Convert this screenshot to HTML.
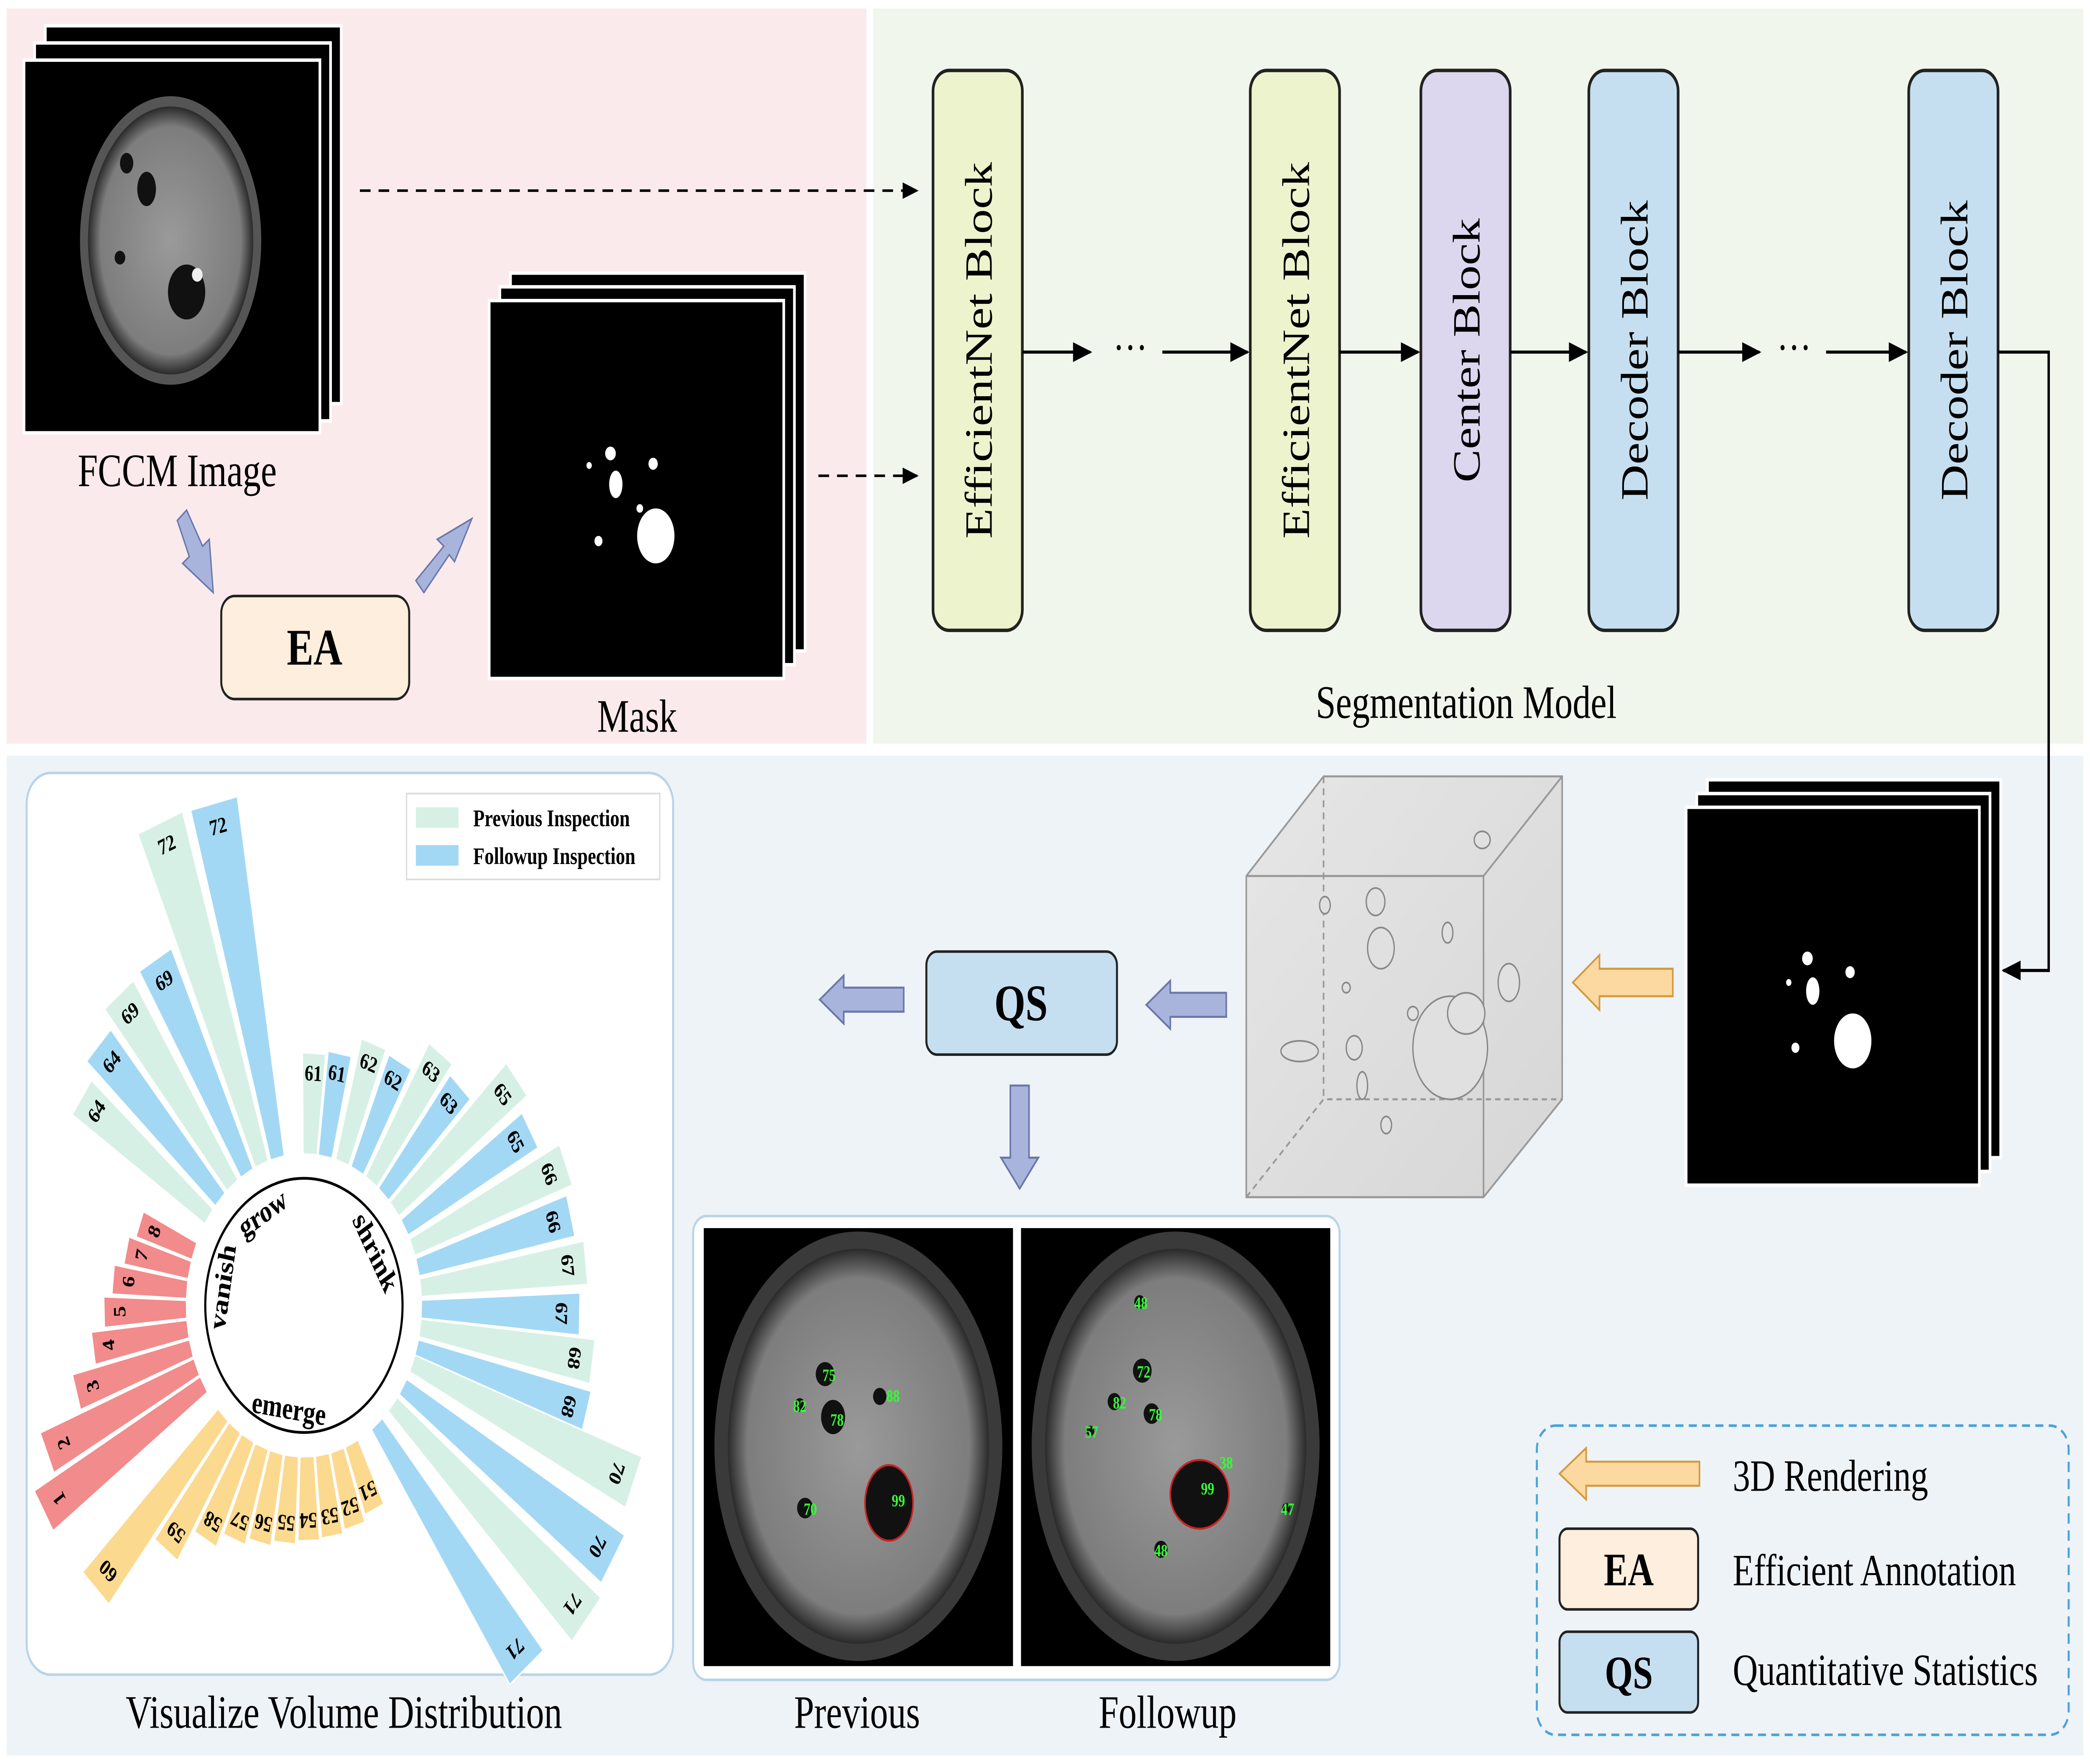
<!DOCTYPE html>
<html><head><meta charset="utf-8"><style>
html,body{margin:0;padding:0;background:#fff;width:100%;height:100%;overflow:hidden;}
svg{display:block;position:fixed;left:0;top:0;width:100vw;height:100vh;}
text{font-family:"Liberation Serif",serif;}
</style></head><body>
<svg viewBox="0 0 1568 1027" preserveAspectRatio="none" xmlns="http://www.w3.org/2000/svg">
<defs>
<radialGradient id="br" cx="50%" cy="50%" r="50%"><stop offset="0" stop-color="#9a9a9a"/><stop offset="0.85" stop-color="#7d7d7d"/><stop offset="1" stop-color="#2a2a2a"/></radialGradient>
<linearGradient id="cube" x1="0" y1="0" x2="1" y2="1"><stop offset="0" stop-color="#e6e6e6"/><stop offset="1" stop-color="#d6d6d6"/></linearGradient>
<marker id="ah" viewBox="0 0 10 10" refX="9" refY="5" markerWidth="8" markerHeight="8" orient="auto"><path d="M0,1 L10,5 L0,9 z" fill="#000"/></marker>
</defs>
<rect width="1568" height="1027" fill="#fff"/>
<rect x="5" y="5" width="645" height="428" fill="#fbeaec"/>
<rect x="655" y="5" width="908" height="428" fill="#f1f6ec"/>
<rect x="5" y="440" width="1558" height="582" fill="#eef3f8"/>

<rect x="34" y="15" width="222" height="220" fill="#000" stroke="#fff" stroke-width="2"/>
<rect x="26" y="25" width="222" height="220" fill="#000" stroke="#fff" stroke-width="2"/>
<rect x="18" y="35" width="222" height="217" fill="#000" stroke="#fff" stroke-width="2"/>
<ellipse cx="128" cy="140" rx="68" ry="84" fill="#555"/>
<ellipse cx="128" cy="140" rx="62" ry="78" fill="url(#br)"/>
<ellipse cx="110" cy="110" rx="7" ry="10" fill="#111"/><ellipse cx="95" cy="95" rx="5" ry="6" fill="#111"/>
<ellipse cx="140" cy="170" rx="14" ry="16" fill="#111"/><circle cx="148" cy="160" r="4" fill="#eee"/>
<circle cx="90" cy="150" r="4" fill="#111"/>
<text x="133" y="283" font-size="27" text-anchor="middle">FCCM Image</text>
<polygon points="133,303 140,297 152,318 157,314 160,345 137,328 142,324" fill="#a9b4dc" stroke="#6a78aa" stroke-width="1"/>
<rect x="166" y="347" width="141" height="60" rx="10" fill="#fdeedd" stroke="#222" stroke-width="1.5"/>
<text x="236" y="387" font-size="30" font-weight="bold" text-anchor="middle">EA</text>
<polygon points="312,338 318,345 337,323 341,327 354,302 328,314 333,318" fill="#a9b4dc" stroke="#6a78aa" stroke-width="1"/>

<rect x="383" y="159" width="221" height="220" fill="#000" stroke="#fff" stroke-width="2"/>
<rect x="375" y="167" width="221" height="220" fill="#000" stroke="#fff" stroke-width="2"/>
<rect x="367" y="175" width="221" height="220" fill="#000" stroke="#fff" stroke-width="2"/>
<circle cx="458" cy="264" r="4" fill="#fff"/><ellipse cx="462" cy="282" rx="5" ry="8" fill="#fff"/><circle cx="490" cy="270" r="3.5" fill="#fff"/>
<circle cx="442" cy="271" r="2" fill="#fff"/><ellipse cx="492" cy="312" rx="14" ry="16" fill="#fff"/><circle cx="449" cy="315" r="3" fill="#fff"/><circle cx="480" cy="296" r="2.5" fill="#fff"/>
<text x="478" y="426" font-size="27" text-anchor="middle">Mask</text>

<line x1="270" y1="111" x2="688" y2="111" stroke="#000" stroke-width="1.5" stroke-dasharray="8,6" marker-end="url(#ah)"/>
<line x1="614" y1="277" x2="688" y2="277" stroke="#000" stroke-width="1.5" stroke-dasharray="8,6" marker-end="url(#ah)"/>

<g stroke="#222" stroke-width="2">
<rect x="700" y="41" width="67" height="326" rx="12" fill="#edf3cc"/>
<rect x="938" y="41" width="67" height="326" rx="12" fill="#edf3cc"/>
<rect x="1066" y="41" width="67" height="326" rx="12" fill="#dcd6ee"/>
<rect x="1192" y="41" width="67" height="326" rx="12" fill="#c6dff0"/>
<rect x="1432" y="41" width="67" height="326" rx="12" fill="#c6dff0"/>
</g>
<g font-size="29">
<text transform="translate(744,204) rotate(-90)" text-anchor="middle">EfficientNet Block</text>
<text transform="translate(982,204) rotate(-90)" text-anchor="middle">EfficientNet Block</text>
<text transform="translate(1110,204) rotate(-90)" text-anchor="middle">Center Block</text>
<text transform="translate(1236,204) rotate(-90)" text-anchor="middle">Decoder Block</text>
<text transform="translate(1476,204) rotate(-90)" text-anchor="middle">Decoder Block</text>
</g>
<g stroke="#000" stroke-width="1.8">
<line x1="767" y1="205" x2="818" y2="205" marker-end="url(#ah)"/>
<line x1="872" y1="205" x2="936" y2="205" marker-end="url(#ah)"/>
<line x1="1005" y1="205" x2="1064" y2="205" marker-end="url(#ah)"/>
<line x1="1133" y1="205" x2="1190" y2="205" marker-end="url(#ah)"/>
<line x1="1259" y1="205" x2="1320" y2="205" marker-end="url(#ah)"/>
<line x1="1370" y1="205" x2="1430" y2="205" marker-end="url(#ah)"/>
<polyline points="1499,205 1537,205 1537,565 1503,565" fill="none" marker-end="url(#ah)"/>
</g>
<text x="848" y="211" font-size="26" text-anchor="middle">···</text>
<text x="1346" y="211" font-size="26" text-anchor="middle">···</text>
<text x="1100" y="418" font-size="27" text-anchor="middle">Segmentation Model</text>

<rect x="1281" y="454" width="220" height="220" fill="#000" stroke="#fff" stroke-width="2"/>
<rect x="1273" y="462" width="220" height="220" fill="#000" stroke="#fff" stroke-width="2"/>
<rect x="1265" y="470" width="220" height="220" fill="#000" stroke="#fff" stroke-width="2"/>
<circle cx="1356" cy="558" r="4" fill="#fff"/><ellipse cx="1360" cy="577" rx="5" ry="8" fill="#fff"/><circle cx="1388" cy="566" r="3.5" fill="#fff"/>
<circle cx="1342" cy="572" r="2" fill="#fff"/><ellipse cx="1390" cy="606" rx="14" ry="16" fill="#fff"/><circle cx="1347" cy="610" r="3" fill="#fff"/>

<polygon points="1180,572 1200,556 1200,564 1255,564 1255,580 1200,580 1200,588" fill="#fcd9a0" stroke="#d49a40" stroke-width="1.2"/>

<g stroke="#999" stroke-width="1.2" fill="none">
<polygon points="935,510 993,452 1172,452 1172,640 1113,697 935,697" fill="url(#cube)"/>
<polyline points="935,510 1113,510 1172,452"/><line x1="1113" y1="510" x2="1113" y2="697"/>
<polyline points="935,697 993,640 1172,640" stroke-dasharray="4,3"/><line x1="993" y1="452" x2="993" y2="640" stroke-dasharray="4,3"/>
</g>
<g fill="#e0e0e0" stroke="#888" stroke-width="1">
<ellipse cx="1088" cy="610" rx="28" ry="30"/><ellipse cx="1100" cy="590" rx="14" ry="12"/><ellipse cx="1036" cy="552" rx="10" ry="12"/>
<ellipse cx="1032" cy="525" rx="7" ry="8"/><ellipse cx="1132" cy="572" rx="8" ry="11"/><ellipse cx="975" cy="612" rx="14" ry="6"/>
<ellipse cx="1016" cy="610" rx="6" ry="7"/><ellipse cx="1112" cy="489" rx="6" ry="5"/><ellipse cx="1086" cy="543" rx="4" ry="6"/>
<ellipse cx="1022" cy="632" rx="4" ry="8"/><ellipse cx="994" cy="527" rx="4" ry="5"/><ellipse cx="1060" cy="590" rx="4" ry="4"/><ellipse cx="1040" cy="655" rx="4" ry="5"/><ellipse cx="1010" cy="575" rx="3" ry="3"/>
</g>

<polygon points="860,585 878,571 878,578 920,578 920,592 878,592 878,599" fill="#a9b4dc" stroke="#6a78aa" stroke-width="1.2"/>
<rect x="695" y="554" width="143" height="60" rx="8" fill="#c6dff0" stroke="#222" stroke-width="1.5"/>
<text x="766" y="594" font-size="30" font-weight="bold" text-anchor="middle">QS</text>
<polygon points="615,582 633,568 633,575 678,575 678,589 633,589 633,596" fill="#a9b4dc" stroke="#6a78aa" stroke-width="1.2"/>
<polygon points="765,692 751,674 758,674 758,632 772,632 772,674 779,674" fill="#a9b4dc" stroke="#6a78aa" stroke-width="1.2"/>

<rect x="520" y="708" width="485" height="270" rx="10" fill="#fff" stroke="#b8d4e8" stroke-width="1.5"/>
<rect x="528" y="715" width="232" height="255" fill="#000"/>
<rect x="766" y="715" width="232" height="255" fill="#000"/>
<ellipse cx="644" cy="842" rx="108" ry="125" fill="#3a3a3a"/><ellipse cx="644" cy="842" rx="98" ry="115" fill="url(#br)"/>
<ellipse cx="882" cy="842" rx="108" ry="125" fill="#3a3a3a"/><ellipse cx="882" cy="842" rx="98" ry="115" fill="url(#br)"/>
<g fill="#111"><circle cx="619" cy="800" r="7"/><ellipse cx="625" cy="825" rx="9" ry="10"/><circle cx="660" cy="813" r="5"/><circle cx="600" cy="818" r="4"/><circle cx="604" cy="878" r="6"/><ellipse cx="667" cy="875" rx="18" ry="22" stroke="#c22" stroke-width="1.2"/>
<circle cx="855" cy="758" r="4"/><circle cx="857" cy="798" r="7"/><circle cx="836" cy="816" r="5"/><circle cx="864" cy="823" r="6"/><ellipse cx="900" cy="870" rx="22" ry="20" stroke="#c22" stroke-width="1.2"/><circle cx="871" cy="902" r="5"/><circle cx="965" cy="878" r="3"/><circle cx="818" cy="833" r="3"/></g>
<g fill="#3f3" font-size="10" font-weight="bold" text-anchor="middle">
<text x="622" y="804">75</text><text x="628" y="830">78</text><text x="600" y="822">82</text><text x="670" y="816">88</text><text x="608" y="882">70</text><text x="674" y="877">99</text>
<text x="856" y="762">48</text><text x="858" y="802">72</text><text x="840" y="820">82</text><text x="867" y="827">78</text><text x="819" y="837">57</text><text x="920" y="855">38</text><text x="906" y="870">99</text><text x="871" y="906">48</text><text x="966" y="882">47</text>
</g>
<text x="643" y="1006" font-size="27" text-anchor="middle">Previous</text>
<text x="876" y="1006" font-size="27" text-anchor="middle">Followup</text>

<rect x="1153" y="830" width="399" height="180" rx="14" fill="none" stroke="#4aa3d8" stroke-width="1.5" stroke-dasharray="6,4"/>
<polygon points="1170,858 1190,843 1190,851 1275,851 1275,865 1190,865 1190,873" fill="#fcd9a0" stroke="#d49a40" stroke-width="1.2"/>
<text x="1300" y="868" font-size="26">3D Rendering</text>
<rect x="1170" y="890" width="104" height="47" rx="6" fill="#fdeedd" stroke="#222" stroke-width="1.5"/>
<text x="1222" y="923" font-size="27" font-weight="bold" text-anchor="middle">EA</text>
<text x="1300" y="923" font-size="26">Efficient Annotation</text>
<rect x="1170" y="950" width="104" height="47" rx="6" fill="#c6dff0" stroke="#222" stroke-width="1.5"/>
<text x="1222" y="983" font-size="27" font-weight="bold" text-anchor="middle">QS</text>
<text x="1300" y="981" font-size="26">Quantitative Statistics</text>

<rect x="20" y="450" width="485" height="525" rx="18" fill="#fff" stroke="#b8d4e8" stroke-width="1.5"/>
<rect x="305" y="462" width="190" height="50" fill="#fff" stroke="#ddd"/>
<rect x="312" y="470" width="32" height="12" fill="#d7f0e6"/><text x="355" y="481" font-size="14" font-weight="bold">Previous Inspection</text>
<rect x="312" y="492" width="32" height="12" fill="#a3d8f5"/><text x="355" y="503" font-size="14" font-weight="bold">Followup Inspection</text>
<text x="258" y="1006" font-size="27" text-anchor="middle">Visualize Volume Distribution</text>

<g transform="translate(228,760)" stroke="#fff" stroke-width="1" font-size="13" font-weight="bold">
<g transform="rotate(-103)"><polygon points="88,-5.3 300,-18 300,18 88,5.3" fill="#a3d8f5"/><text transform="translate(286,0) rotate(90)" text-anchor="middle" dy="4" stroke="none">72</text></g>
<g transform="rotate(-111)"><polygon points="88,-5.3 301,-18 301,18 88,5.3" fill="#d7f0e6"/><text transform="translate(287,0) rotate(90)" text-anchor="middle" dy="4" stroke="none">72</text></g>
<g transform="rotate(-119)"><polygon points="88,-5.3 230,-13.8 230,13.8 88,5.3" fill="#a3d8f5"/><text transform="translate(216,0) rotate(90)" text-anchor="middle" dy="4" stroke="none">69</text></g>
<g transform="rotate(-127.5)"><polygon points="88,-5.3 228,-13.7 228,13.7 88,5.3" fill="#d7f0e6"/><text transform="translate(214,0) rotate(90)" text-anchor="middle" dy="4" stroke="none">69</text></g>
<g transform="rotate(-135.5)"><polygon points="88,-5.3 216,-13 216,13 88,5.3" fill="#a3d8f5"/><text transform="translate(202,0) rotate(90)" text-anchor="middle" dy="4" stroke="none">64</text></g>
<g transform="rotate(-144)"><polygon points="88,-5.3 206,-12.4 206,12.4 88,5.3" fill="#d7f0e6"/><text transform="translate(192,0) rotate(90)" text-anchor="middle" dy="4" stroke="none">64</text></g>

<g transform="rotate(-159)"><polygon points="88,-5.3 132,-7.9 132,7.9 88,5.3" fill="#f28b8b"/><text transform="translate(120,0) rotate(90)" text-anchor="middle" dy="4" stroke="none">8</text></g>
<g transform="rotate(-166.5)"><polygon points="88,-5.3 137,-8.2 137,8.2 88,5.3" fill="#f28b8b"/><text transform="translate(125,0) rotate(90)" text-anchor="middle" dy="4" stroke="none">7</text></g>
<g transform="rotate(-174)"><polygon points="88,-5.3 144,-8.6 144,8.6 88,5.3" fill="#f28b8b"/><text transform="translate(132,0) rotate(90)" text-anchor="middle" dy="4" stroke="none">6</text></g>
<g transform="rotate(178.5)"><polygon points="88,-5.3 150,-9 150,9 88,5.3" fill="#f28b8b"/><text transform="translate(138,0) rotate(90)" text-anchor="middle" dy="4" stroke="none">5</text></g>
<g transform="rotate(171)"><polygon points="88,-5.3 160,-9.6 160,9.6 88,5.3" fill="#f28b8b"/><text transform="translate(148,0) rotate(90)" text-anchor="middle" dy="4" stroke="none">4</text></g>
<g transform="rotate(163.5)"><polygon points="88,-5.3 178,-10.7 178,10.7 88,5.3" fill="#f28b8b"/><text transform="translate(165,0) rotate(90)" text-anchor="middle" dy="4" stroke="none">3</text></g>
<g transform="rotate(156)"><polygon points="88,-5.3 211,-12.7 211,12.7 88,5.3" fill="#f28b8b"/><text transform="translate(197,0) rotate(90)" text-anchor="middle" dy="4" stroke="none">2</text></g>
<g transform="rotate(148.5)"><polygon points="88,-5.3 229,-13.7 229,13.7 88,5.3" fill="#f28b8b"/><text transform="translate(215,0) rotate(90)" text-anchor="middle" dy="4" stroke="none">1</text></g>

<g transform="rotate(133.5)"><polygon points="88,-5.3 227,-13.6 227,13.6 88,5.3" fill="#fbd98f"/><text transform="translate(213,0) rotate(90)" text-anchor="middle" dy="4" stroke="none">60</text></g>
<g transform="rotate(126)"><polygon points="88,-5.3 176,-10.6 176,10.6 88,5.3" fill="#fbd98f"/><text transform="translate(163,0) rotate(90)" text-anchor="middle" dy="4" stroke="none">59</text></g>
<g transform="rotate(118.5)"><polygon points="88,-5.3 155,-9.3 155,9.3 88,5.3" fill="#fbd98f"/><text transform="translate(143,0) rotate(90)" text-anchor="middle" dy="4" stroke="none">58</text></g>
<g transform="rotate(111)"><polygon points="88,-5.3 146,-8.8 146,8.8 88,5.3" fill="#fbd98f"/><text transform="translate(134,0) rotate(90)" text-anchor="middle" dy="4" stroke="none">57</text></g>
<g transform="rotate(103.5)"><polygon points="88,-5.3 142,-8.5 142,8.5 88,5.3" fill="#fbd98f"/><text transform="translate(130,0) rotate(90)" text-anchor="middle" dy="4" stroke="none">56</text></g>
<g transform="rotate(96)"><polygon points="88,-5.3 139,-8.3 139,8.3 88,5.3" fill="#fbd98f"/><text transform="translate(127,0) rotate(90)" text-anchor="middle" dy="4" stroke="none">55</text></g>
<g transform="rotate(88.5)"><polygon points="88,-5.3 137,-8.2 137,8.2 88,5.3" fill="#fbd98f"/><text transform="translate(125,0) rotate(90)" text-anchor="middle" dy="4" stroke="none">54</text></g>
<g transform="rotate(81)"><polygon points="88,-5.3 136,-8.2 136,8.2 88,5.3" fill="#fbd98f"/><text transform="translate(124,0) rotate(90)" text-anchor="middle" dy="4" stroke="none">53</text></g>
<g transform="rotate(73.5)"><polygon points="88,-5.3 134,-8 134,8 88,5.3" fill="#fbd98f"/><text transform="translate(122,0) rotate(90)" text-anchor="middle" dy="4" stroke="none">52</text></g>
<g transform="rotate(66)"><polygon points="88,-5.3 130,-7.8 130,7.8 88,5.3" fill="#fbd98f"/><text transform="translate(118,0) rotate(90)" text-anchor="middle" dy="4" stroke="none">51</text></g>

<g transform="rotate(-87)"><polygon points="88,-5.3 147,-8.8 147,8.8 88,5.3" fill="#d7f0e6"/><text transform="translate(135,0) rotate(90)" text-anchor="middle" dy="4" stroke="none">61</text></g>
<g transform="rotate(-79.6)"><polygon points="88,-5.3 149,-8.9 149,8.9 88,5.3" fill="#a3d8f5"/><text transform="translate(137,0) rotate(90)" text-anchor="middle" dy="4" stroke="none">61</text></g>
<g transform="rotate(-71)"><polygon points="88,-5.3 161,-9.7 161,9.7 88,5.3" fill="#d7f0e6"/><text transform="translate(149,0) rotate(90)" text-anchor="middle" dy="4" stroke="none">62</text></g>
<g transform="rotate(-63)"><polygon points="88,-5.3 159,-9.5 159,9.5 88,5.3" fill="#a3d8f5"/><text transform="translate(147,0) rotate(90)" text-anchor="middle" dy="4" stroke="none">62</text></g>
<g transform="rotate(-55)"><polygon points="88,-5.3 179,-10.7 179,10.7 88,5.3" fill="#d7f0e6"/><text transform="translate(166,0) rotate(90)" text-anchor="middle" dy="4" stroke="none">63</text></g>
<g transform="rotate(-47.3)"><polygon points="88,-5.3 173,-10.4 173,10.4 88,5.3" fill="#a3d8f5"/><text transform="translate(160,0) rotate(90)" text-anchor="middle" dy="4" stroke="none">63</text></g>
<g transform="rotate(-39.5)"><polygon points="88,-5.3 207,-12.4 207,12.4 88,5.3" fill="#d7f0e6"/><text transform="translate(193,0) rotate(90)" text-anchor="middle" dy="4" stroke="none">65</text></g>
<g transform="rotate(-31)"><polygon points="88,-5.3 198,-11.9 198,11.9 88,5.3" fill="#a3d8f5"/><text transform="translate(185,0) rotate(90)" text-anchor="middle" dy="4" stroke="none">65</text></g>
<g transform="rotate(-22.6)"><polygon points="88,-5.3 213,-12.8 213,12.8 88,5.3" fill="#d7f0e6"/><text transform="translate(199,0) rotate(90)" text-anchor="middle" dy="4" stroke="none">66</text></g>
<g transform="rotate(-14.6)"><polygon points="88,-5.3 207,-12.4 207,12.4 88,5.3" fill="#a3d8f5"/><text transform="translate(193,0) rotate(90)" text-anchor="middle" dy="4" stroke="none">66</text></g>
<g transform="rotate(-6.7)"><polygon points="88,-5.3 213,-12.8 213,12.8 88,5.3" fill="#d7f0e6"/><text transform="translate(199,0) rotate(90)" text-anchor="middle" dy="4" stroke="none">67</text></g>
<g transform="rotate(1.4)"><polygon points="88,-5.3 207,-12.4 207,12.4 88,5.3" fill="#a3d8f5"/><text transform="translate(193,0) rotate(90)" text-anchor="middle" dy="4" stroke="none">67</text></g>
<g transform="rotate(8.6)"><polygon points="88,-5.3 219,-13.1 219,13.1 88,5.3" fill="#d7f0e6"/><text transform="translate(205,0) rotate(90)" text-anchor="middle" dy="4" stroke="none">68</text></g>
<g transform="rotate(16.5)"><polygon points="88,-5.3 221,-13.3 221,13.3 88,5.3" fill="#a3d8f5"/><text transform="translate(207,0) rotate(90)" text-anchor="middle" dy="4" stroke="none">68</text></g>
<g transform="rotate(22.6)"><polygon points="88,-5.3 268,-16.1 268,16.1 88,5.3" fill="#d7f0e6"/><text transform="translate(254,0) rotate(90)" text-anchor="middle" dy="4" stroke="none">70</text></g>
<g transform="rotate(32.5)"><polygon points="88,-5.3 275,-16.5 275,16.5 88,5.3" fill="#a3d8f5"/><text transform="translate(261,0) rotate(90)" text-anchor="middle" dy="4" stroke="none">70</text></g>
<g transform="rotate(40.8)"><polygon points="88,-5.3 280,-16.8 280,16.8 88,5.3" fill="#d7f0e6"/><text transform="translate(266,0) rotate(90)" text-anchor="middle" dy="4" stroke="none">71</text></g>
<g transform="rotate(51.6)"><polygon points="88,-5.3 269,-16.1 269,16.1 88,5.3" fill="#a3d8f5"/><text transform="translate(255,0) rotate(90)" text-anchor="middle" dy="4" stroke="none">71</text></g>

<circle cx="0" cy="0" r="74" fill="#fff" stroke="#000" stroke-width="1.6"/>
<g stroke="none" font-size="18" font-weight="bold" text-anchor="middle">
<text transform="rotate(-30) translate(0,-56)">grow</text>
<text transform="rotate(-80) translate(0,-56)">vanish</text>
<text transform="rotate(60) translate(0,-56)">shrink</text>
<text transform="translate(-12,66) rotate(8)">emerge</text>
</g>
</g>
</svg>
</body></html>
